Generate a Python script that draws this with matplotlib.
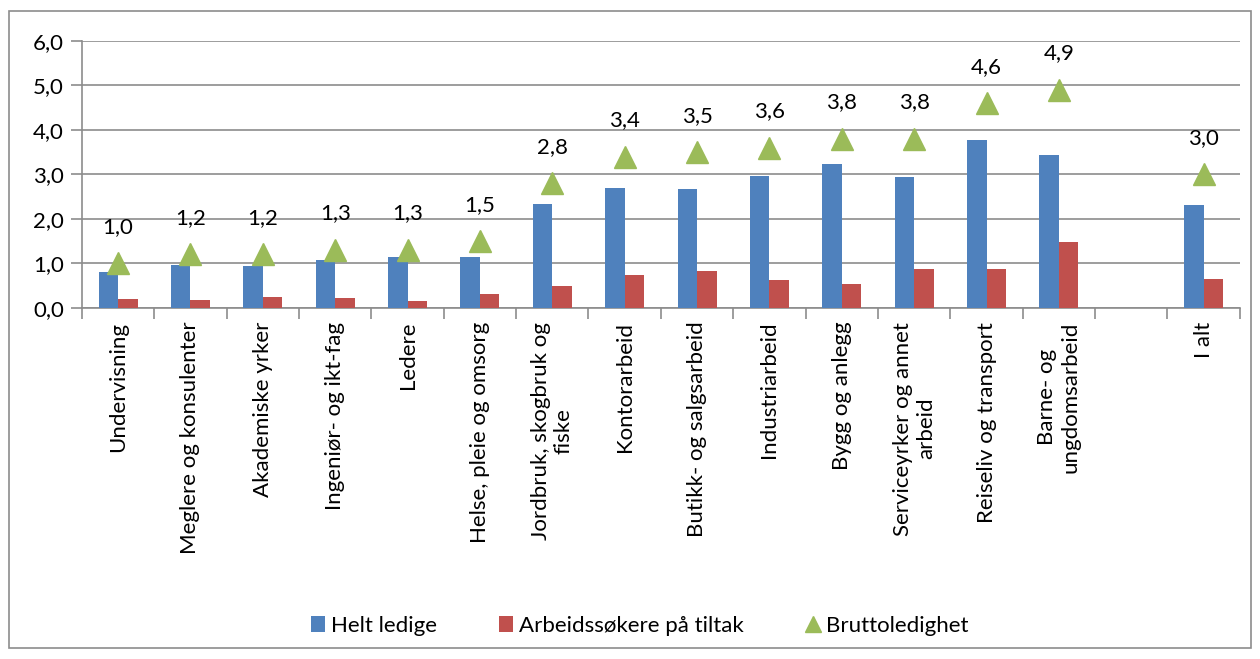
import numpy as np
import matplotlib.pyplot as plt
from matplotlib.patches import Rectangle

plt.rcParams['font.family'] = ['Lato', 'DejaVu Sans']

categories = ['Undervisning', 'Meglere og konsulenter', 'Akademiske yrker',
              'Ingeniør- og ikt-fag', 'Ledere', 'Helse, pleie og omsorg',
              'Jordbruk, skogbruk og\nfiske', 'Kontorarbeid', 'Butikk- og salgsarbeid',
              'Industriarbeid', 'Bygg og anlegg', 'Serviceyrker og annet\narbeid',
              'Reiseliv og transport', 'Barne- og\nungdomsarbeid', '', 'I alt']
helt_ledige = [0.81, 0.97, 0.94, 1.08, 1.15, 1.13, 2.34, 2.70, 2.68, 2.97,
               3.24, 2.94, 3.78, 3.44, np.nan, 2.31]
tiltak = [0.20, 0.18, 0.25, 0.22, 0.15, 0.32, 0.49, 0.73, 0.83, 0.63,
          0.54, 0.88, 0.87, 1.48, np.nan, 0.65]
brutto = [1.0, 1.2, 1.2, 1.3, 1.3, 1.5, 2.8, 3.4, 3.5, 3.6,
          3.8, 3.8, 4.6, 4.9, np.nan, 3.0]

blue = '#4F81BD'
red = '#C0504D'
green = '#9BBB59'
grid_col = '#8C8C8C'
fs = 16

fig = plt.figure(figsize=(12.6, 6.59), dpi=100)
ax = fig.add_axes([0.065, 0.533, 0.919, 0.405])

x = np.arange(len(categories))
w = 0.27
b1 = ax.bar(x - w / 2, helt_ledige, w, color=blue, label='Helt ledige', zorder=3)
b2 = ax.bar(x + w / 2, tiltak, w, color=red, label='Arbeidssøkere på tiltak', zorder=3)
l3, = ax.plot(x, brutto, linestyle='none', marker='^', markersize=16, color=green,
              label='Bruttoledighet', zorder=4)

# verdietiketter over trekantene
for xi, v in zip(x, brutto):
    if np.isnan(v):
        continue
    ax.annotate(f'{v:.1f}'.replace('.', ','), (xi, v), xytext=(0, 19),
                textcoords='offset points', ha='center', va='bottom', fontsize=fs)

ax.set_xlim(-0.5, len(categories) - 0.5)
ax.set_ylim(0, 6)
ax.set_yticks(np.arange(0, 6.01, 1))
ax.set_yticklabels([f'{t:.1f}'.replace('.', ',') for t in np.arange(0, 6.01, 1)], fontsize=fs)
ax.yaxis.grid(True, color=grid_col, linewidth=1.2, zorder=0)
ax.tick_params(axis='y', length=8, color=grid_col, width=1.2, pad=5)

ax.set_xticks(x)
ax.set_xticklabels(categories, rotation=90, fontsize=fs, ha='center', va='top',
                   multialignment='center')
ax.set_xticks(np.arange(-0.5, len(categories)), minor=True)
ax.tick_params(axis='x', which='major', length=0, pad=10)
ax.tick_params(axis='x', which='minor', length=8, color=grid_col, width=1.2)

for s in ['top', 'right']:
    ax.spines[s].set_visible(False)
for s in ['left', 'bottom']:
    ax.spines[s].set_color(grid_col)
    ax.spines[s].set_linewidth(1.2)

fig.legend([b1, b2, l3], ['Helt ledige', 'Arbeidssøkere på tiltak', 'Bruttoledighet'],
           loc='center', bbox_to_anchor=(0.508, 0.05), ncol=3, frameon=False,
           fontsize=fs, handlelength=0.6, handletextpad=0.3, columnspacing=2.8,
           markerscale=0.75)

# ramme rundt hele figuren
fig.patches.append(Rectangle((0.007, 0.017), 0.986, 0.966, transform=fig.transFigure,
                             fill=False, edgecolor='#8C8C8C', linewidth=1.2))

fig.savefig('out.png', dpi=100)
